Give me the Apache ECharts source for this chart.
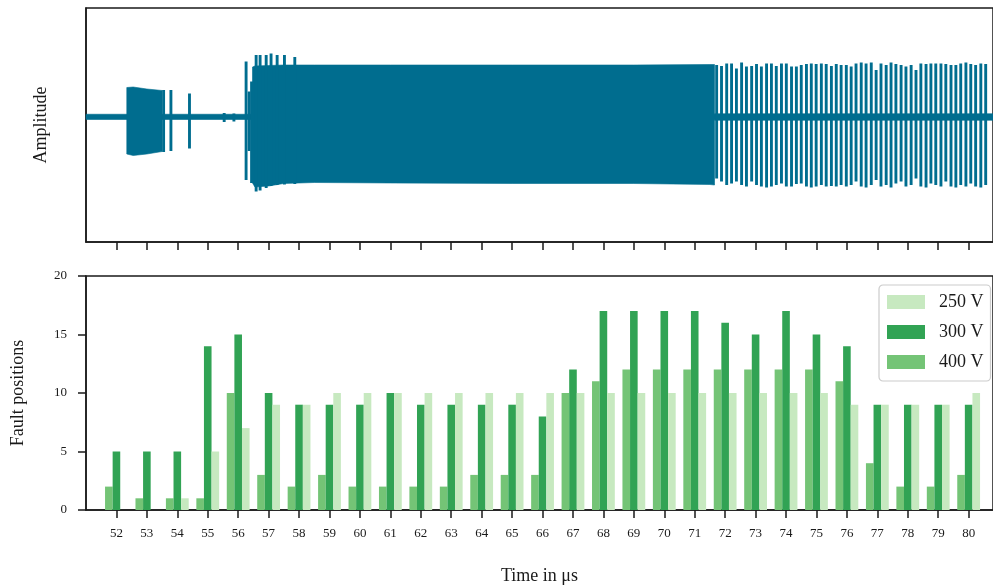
<!DOCTYPE html>
<html>
<head>
<meta charset="utf-8">
<script src="https://cdn.jsdelivr.net/npm/echarts@6/dist/echarts.min.js"></script>
<style>html,body{margin:0;padding:0;background:#fff;}#c{width:993px;height:587px;}</style>
</head>
<body>
<div id="c"></div>
<script>
// ---------- bar chart data ----------
const times = [52,53,54,55,56,57,58,59,60,61,62,63,64,65,66,67,68,69,70,71,72,73,74,75,76,77,78,79,80];
const v250 = [0,0,1,5,7,9,9,10,10,10,10,10,10,10,10,10,10,10,10,10,10,10,10,10,9,9,9,9,10];
const v300 = [5,5,5,14,15,10,9,9,9,10,9,9,9,9,8,12,17,17,17,17,16,15,17,15,14,9,9,9,9];
const v400 = [2,1,1,1,10,3,2,3,2,2,2,2,3,3,3,10,11,12,12,12,12,12,12,12,11,4,2,2,3];
const tickLabels = [52,53,54,55,56,57,58,59,60,61,62,63,64,65,66,67,68,69,70,71,72,73,74,75,76,77,78,79,80];
const faultTicks = [0,5,10,15,20];

// ---------- waveform data (amplitude, arbitrary units) ----------
const baseTimes = [51, 71.65, 71.65, 80.8];
const baseUpper = [0.055, 0.055, 0.065, 0.065];
const baseLower = [-0.05, -0.05, -0.065, -0.065];

const burst1Times = [52.34, 52.55, 53.0, 53.50];
const burst1Upper = [0.59, 0.60, 0.56, 0.53];
const burst1Lower = [-0.74, -0.77, -0.74, -0.69];

const mainTimes = [56.47, 56.55, 57.0, 57.5, 58.5, 61.0, 65.0, 69.0, 71.5, 71.65];
const mainUpper = [1.00, 1.02, 1.03, 1.04, 1.04, 1.04, 1.04, 1.04, 1.05, 1.05];
const mainLower = [-1.32, -1.40, -1.38, -1.33, -1.31, -1.32, -1.33, -1.33, -1.35, -1.36];

const spikeTimes = [53.55, 53.79, 54.40, 55.54, 55.86, 56.26, 56.36, 56.44,
  56.59, 56.72, 56.92, 57.08, 57.28, 57.52, 57.86,
  71.72, 71.88, 72.05, 72.21, 72.37, 72.54, 72.70, 72.87, 73.03, 73.19,
  73.36, 73.52, 73.68, 73.85, 74.01, 74.18, 74.34, 74.50, 74.67, 74.83,
  74.99, 75.16, 75.32, 75.49, 75.65, 75.81, 75.98, 76.14, 76.30, 76.47,
  76.63, 76.80, 76.96, 77.12, 77.29, 77.45, 77.61, 77.78, 77.94, 78.11,
  78.27, 78.43, 78.60, 78.76, 78.92, 79.09, 79.25, 79.42, 79.58, 79.74,
  79.91, 80.07, 80.23, 80.40, 80.56];
const spikeTops = [0.54, 0.54, 0.47, 0.08, 0.07, 1.11, 0.51, 0.71,
  1.24, 1.24, 1.24, 1.27, 1.24, 1.24, 1.20,
  1.04, 1.02, 1.07, 1.07, 0.97, 1.09, 1.01, 1.02, 1.06, 1.01,
  1.07, 1.07, 1.02, 1.07, 1.07, 1.01, 1.01, 1.04, 1.06, 1.07,
  1.06, 1.07, 1.06, 1.02, 1.06, 1.04, 1.04, 1.01, 1.07, 1.09,
  1.07, 1.09, 0.94, 1.07, 1.04, 1.09, 1.06, 1.04, 1.01, 1.04,
  0.94, 1.07, 1.06, 1.07, 1.07, 1.07, 1.06, 1.04, 1.04, 1.07,
  1.09, 1.06, 1.04, 1.07, 1.06];
const spikeBottoms = [-0.70, -0.68, -0.63, -0.10, -0.09, -1.26, -0.68, -1.32,
  -1.49, -1.47, -1.42, -1.38, -1.36, -1.35, -1.34,
  -1.23, -1.29, -1.36, -1.33, -1.29, -1.36, -1.39, -1.29, -1.36, -1.39,
  -1.41, -1.39, -1.36, -1.33, -1.39, -1.39, -1.34, -1.33, -1.39, -1.41,
  -1.39, -1.36, -1.39, -1.38, -1.39, -1.36, -1.39, -1.36, -1.29, -1.39,
  -1.41, -1.36, -1.26, -1.39, -1.36, -1.41, -1.33, -1.29, -1.39, -1.36,
  -1.23, -1.39, -1.41, -1.33, -1.36, -1.39, -1.29, -1.39, -1.41, -1.36,
  -1.39, -1.33, -1.39, -1.41, -1.36];

// ---------- styling ----------
const WAVE = '#006d8f';
const C250 = '#c7e9c0', C300 = '#31a354', C400 = '#74c476';
const FONT = 'Liberation Serif';
const INK = '#1a1a1a';
const X_MIN = 51, X_MAX = 80.8;

const envelopes = [
  {t: baseTimes, u: baseUpper, l: baseLower},
  {t: burst1Times, u: burst1Upper, l: burst1Lower},
  {t: mainTimes, u: mainUpper, l: mainLower}
];

const chart = echarts.init(document.getElementById('c'), null, {renderer: 'canvas'});

const axisLineStyle = {color: INK, width: 1.5};
const tickStyle = {color: INK, width: 1.5};

function xAxisCommon(grid, withLabels) {
  return {
    type: 'value', gridIndex: grid, min: X_MIN, max: X_MAX,
    axisLine: {show: true, onZero: false, lineStyle: axisLineStyle},
    axisTick: {show: true, length: 8, lineStyle: tickStyle, customValues: tickLabels},
    axisLabel: withLabels ? {show: true, customValues: tickLabels, margin: 17, fontFamily: FONT, fontSize: 13, color: INK} : {show: false},
    splitLine: {show: false}
  };
}

const option = {
  animation: false,
  backgroundColor: '#fff',
  grid: [
    {left: 86, top: 8, width: 910, height: 234, show: true, borderColor: INK, borderWidth: 1.5, backgroundColor: 'transparent'},
    {left: 86, top: 276, width: 910, height: 234, show: true, borderColor: INK, borderWidth: 1.5, backgroundColor: 'transparent'}
  ],
  xAxis: [
    xAxisCommon(0, false),
    Object.assign(xAxisCommon(1, true), {
      name: 'Time in μs', nameLocation: 'middle', nameGap: 57,
      nameTextStyle: {fontFamily: FONT, fontSize: 18, color: INK}
    })
  ],
  yAxis: [
    {
      type: 'value', gridIndex: 0, min: -2.5, max: 2.18,
      axisLine: {show: true, lineStyle: axisLineStyle}, axisTick: {show: false},
      axisLabel: {show: false}, splitLine: {show: false},
      name: 'Amplitude', nameLocation: 'middle', nameGap: 36,
      nameTextStyle: {fontFamily: FONT, fontSize: 18, color: INK}
    },
    {
      type: 'value', gridIndex: 1, min: 0, max: 20, interval: 5,
      axisLine: {show: true, lineStyle: axisLineStyle},
      axisTick: {show: true, length: 8, lineStyle: tickStyle, customValues: faultTicks},
      axisLabel: {show: true, customValues: faultTicks, margin: 19, fontFamily: FONT, fontSize: 13, color: INK},
      splitLine: {show: false},
      name: 'Fault positions', nameLocation: 'middle', nameGap: 59,
      nameTextStyle: {fontFamily: FONT, fontSize: 18, color: INK}
    }
  ],
  legend: {
    data: ['250 V', '300 V', '400 V'],
    orient: 'vertical', left: 879, top: 285,
    itemWidth: 38, itemHeight: 14, itemGap: 12, icon: 'rect',
    padding: [8, 7, 10, 8],
    backgroundColor: 'rgba(255,255,255,0.85)', borderColor: '#cccccc', borderWidth: 1.2, borderRadius: 4,
    textStyle: {fontFamily: FONT, fontSize: 18, color: INK, padding: [0, 0, 0, 9]}
  },
  series: [
    {
      type: 'custom', name: 'envelope', xAxisIndex: 0, yAxisIndex: 0, silent: true,
      data: envelopes.map((e, i) => [e.t[0], 0, i]),
      renderItem: function (params, api) {
        const e = envelopes[params.dataIndex];
        const pts = [];
        for (let k = 0; k < e.t.length; k++) pts.push(api.coord([e.t[k], e.u[k]]));
        for (let k = e.t.length - 1; k >= 0; k--) pts.push(api.coord([e.t[k], e.l[k]]));
        return {type: 'polygon', shape: {points: pts}, style: {fill: WAVE, stroke: WAVE, lineWidth: 0.6}};
      }
    },
    {
      type: 'custom', name: 'spikes', xAxisIndex: 0, yAxisIndex: 0, silent: true,
      data: spikeTimes.map((t, i) => [t, spikeTops[i], spikeBottoms[i]]),
      renderItem: function (params, api) {
        const t = api.value(0), top = api.value(1), bot = api.value(2);
        const w = 0.095;
        const p1 = api.coord([t - w / 2, top]);
        const p2 = api.coord([t + w / 2, bot]);
        return {type: 'rect', shape: {x: p1[0], y: p1[1], width: p2[0] - p1[0], height: p2[1] - p1[1]}, style: {fill: WAVE}};
      }
    },
    {
      type: 'bar', name: '400 V', xAxisIndex: 1, yAxisIndex: 1,
      data: times.map((t, i) => [t, v400[i]]), barWidth: 7.6, barGap: '0%',
      itemStyle: {color: C400}
    },
    {
      type: 'bar', name: '300 V', xAxisIndex: 1, yAxisIndex: 1,
      data: times.map((t, i) => [t, v300[i]]), barWidth: 7.6, barGap: '0%',
      itemStyle: {color: C300}
    },
    {
      type: 'bar', name: '250 V', xAxisIndex: 1, yAxisIndex: 1,
      data: times.map((t, i) => [t, v250[i]]), barWidth: 7.6, barGap: '0%',
      itemStyle: {color: C250}
    }
  ]
};
chart.setOption(option);
</script>
</body>
</html>
